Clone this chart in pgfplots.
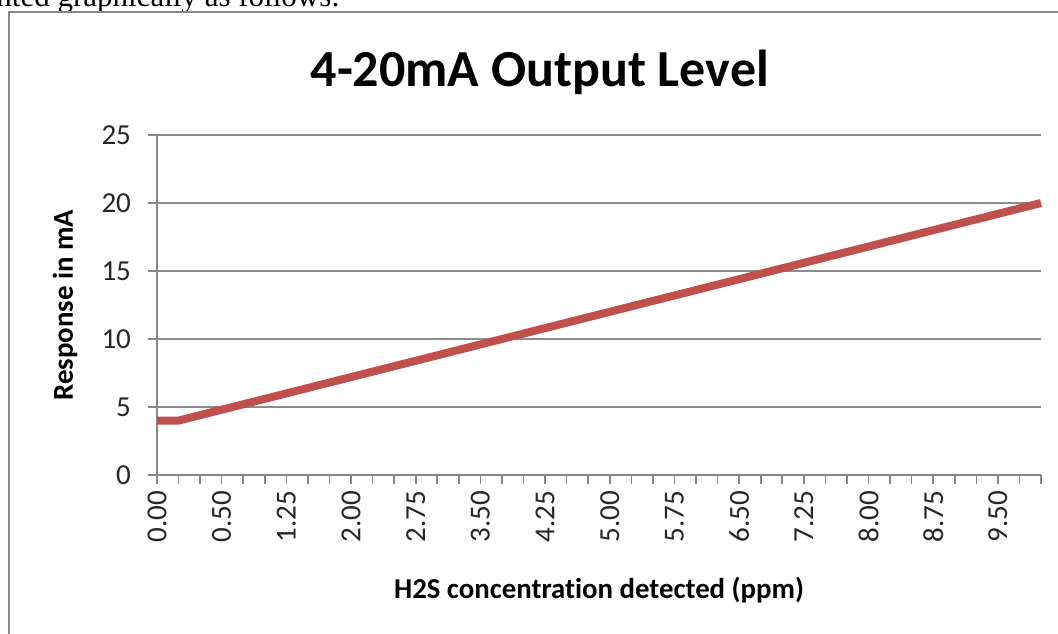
\documentclass[border=0pt]{standalone}
\usepackage{pgfplots}
\pgfplotsset{compat=1.18}
\usepackage{fontspec}
\setmainfont{Carlito}[Ligatures=NoCommon]
\newfontfamily\serifdoc{Liberation Serif}
\definecolor{axgray}{HTML}{868686}
\definecolor{gridgray}{HTML}{8C8C8C}
\definecolor{linered}{HTML}{C0504D}
\begin{document}
\begin{tikzpicture}
\useasboundingbox (0,0) rectangle (529pt,316.5pt);
\node[anchor=base west, inner sep=0pt, font=\serifdoc\fontsize{15.5}{18}\selectfont] at (-2pt,313pt) {nted graphically as follows:};
\draw[axgray, line width=1.1pt] (540pt,-10pt) -- (4.5pt,-10pt) -- (4.5pt,310.5pt) -- (540pt,310.5pt);
\begin{axis}[
  at={(78.5pt,79pt)}, anchor=south west,
  scale only axis, width=442pt, height=170pt,
  xmin=0, xmax=41, ymin=0, ymax=25,
  axis x line*=bottom, axis y line*=left,
  axis line style={draw=axgray, line width=0.8pt, -},
  xtick={0,3,...,39},
  xticklabels={0.00,0.50,1.25,2.00,2.75,3.50,4.25,5.00,5.75,6.50,7.25,8.00,8.75,9.50},
  minor xtick={0,...,41},
  ytick={0,5,...,25},
  tick align=outside,
  major tick length=4.5pt, minor tick length=4.5pt,
  tick style={draw=axgray, line width=0.8pt},
  minor tick style={draw=axgray, line width=0.8pt},
  ymajorgrids,
  major grid style={draw=gridgray, line width=0.7pt},
  /pgf/number format/assume math mode=true,
  ticklabel style={font=\fontsize{14.5}{17}\selectfont, text=black!85},
  xticklabel style={rotate=90, anchor=east},
  yticklabel style={anchor=east, xshift=-5pt},
  title={4-20mA Output Level},
  title style={at={(axis description cs:0.433,1.108)}, anchor=base, font=\bfseries\fontsize{26}{30}\selectfont},
  xlabel={H2S concentration detected (ppm)},
  xlabel style={at={(axis description cs:0.5,-0.362)}, anchor=base, font=\bfseries\fontsize{14.4}{17}\selectfont},
  ylabel={Response in mA},
  ylabel style={at={(axis description cs:-0.104,0.5)}, anchor=center, font=\bfseries\fontsize{14.4}{17}\selectfont},
  clip=false,
]
\addplot[linered, line width=4pt, line join=round] coordinates {
(0,4.0) (1,4.0) (2,4.4) (3,4.8) (4,5.2) (5,5.6) (6,6.0) (7,6.4) (8,6.8) (9,7.2)
(10,7.6) (11,8.0) (12,8.4) (13,8.8) (14,9.2) (15,9.6) (16,10.0) (17,10.4) (18,10.8) (19,11.2)
(20,11.6) (21,12.0) (22,12.4) (23,12.8) (24,13.2) (25,13.6) (26,14.0) (27,14.4) (28,14.8) (29,15.2)
(30,15.6) (31,16.0) (32,16.4) (33,16.8) (34,17.2) (35,17.6) (36,18.0) (37,18.4) (38,18.8) (39,19.2)
(40,19.6) (41,20.0)
};
\end{axis}
\end{tikzpicture}
\end{document}
